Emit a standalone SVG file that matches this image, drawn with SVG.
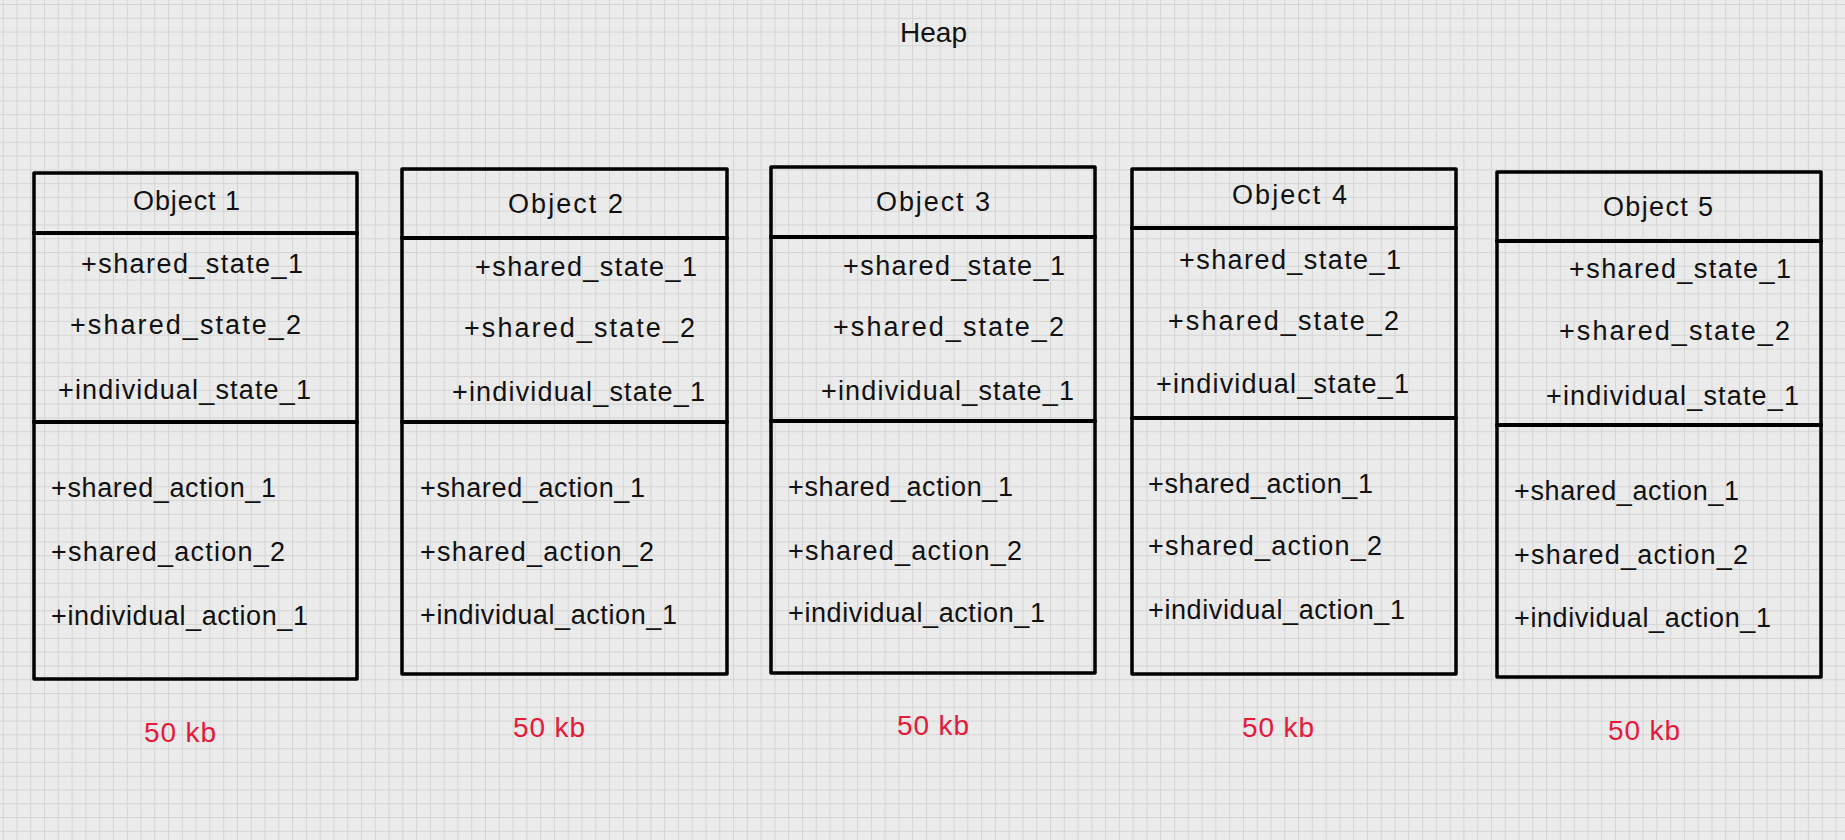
<svg xmlns="http://www.w3.org/2000/svg" width="1845" height="840" viewBox="0 0 1845 840">
<style>
.box{fill:none;stroke:#000;stroke-width:3.5;stroke-linejoin:round;stroke-linecap:round}
.div{stroke:#000;stroke-width:4;stroke-linecap:round}
.t{font-family:"Liberation Sans",Arial,sans-serif;font-size:27px;fill:#111}
.title{font-family:"Liberation Sans",Arial,sans-serif;font-size:27px;fill:#111}
.kb{font-family:"Liberation Sans",Arial,sans-serif;font-size:28px;fill:#e5193a}
.heap{font-family:"Liberation Sans",Arial,sans-serif;font-size:28px;fill:#111}
</style>
<defs>
<pattern id="grid" patternUnits="userSpaceOnUse" x="2.7" y="4" width="13.78" height="13.78">
<rect width="13.78" height="13.78" fill="#ebebeb"/>
<path d="M0 0.5H13.78M0.5 0V13.78" stroke="#d4d4d4" stroke-width="1" fill="none"/>
</pattern>
</defs>
<rect width="1845" height="840" fill="url(#grid)"/>
<text class="heap" x="900" y="42" textLength="67">Heap</text>
<g id="connectors"></g>

<g id="object-1">
<rect class="box" x="34" y="173" width="323" height="506"/>
<line class="div" x1="34" y1="233" x2="357" y2="233"/>
<line class="div" x1="34" y1="422" x2="357" y2="422"/>
<text class="title" x="133" y="210" textLength="107">Object 1</text>
<text class="t" x="81" y="273" textLength="222">+shared_state_1</text>
<text class="t" x="70" y="334" textLength="231">+shared_state_2</text>
<text class="t" x="58" y="399" textLength="253">+individual_state_1</text>
<text class="t" x="51" y="497" textLength="225">+shared_action_1</text>
<text class="t" x="51" y="561" textLength="234">+shared_action_2</text>
<text class="t" x="51" y="625" textLength="257">+individual_action_1</text>
<text class="kb" x="144" y="742" textLength="72">50 kb</text>
</g>

<g id="object-2">
<rect class="box" x="402" y="169" width="325" height="505"/>
<line class="div" x1="402" y1="238" x2="727" y2="238"/>
<line class="div" x1="402" y1="422" x2="727" y2="422"/>
<text class="title" x="508" y="213" textLength="115">Object 2</text>
<text class="t" x="475" y="276" textLength="222">+shared_state_1</text>
<text class="t" x="464" y="337" textLength="231">+shared_state_2</text>
<text class="t" x="452" y="401" textLength="253">+individual_state_1</text>
<text class="t" x="420" y="497" textLength="225">+shared_action_1</text>
<text class="t" x="420" y="561" textLength="234">+shared_action_2</text>
<text class="t" x="420" y="624" textLength="257">+individual_action_1</text>
<text class="kb" x="513" y="737" textLength="72">50 kb</text>
</g>

<g id="object-3">
<rect class="box" x="771" y="167" width="324" height="506"/>
<line class="div" x1="771" y1="237" x2="1095" y2="237"/>
<line class="div" x1="771" y1="421" x2="1095" y2="421"/>
<text class="title" x="876" y="211" textLength="114">Object 3</text>
<text class="t" x="843" y="275" textLength="222">+shared_state_1</text>
<text class="t" x="833" y="336" textLength="231">+shared_state_2</text>
<text class="t" x="821" y="400" textLength="253">+individual_state_1</text>
<text class="t" x="788" y="496" textLength="225">+shared_action_1</text>
<text class="t" x="788" y="560" textLength="234">+shared_action_2</text>
<text class="t" x="788" y="622" textLength="257">+individual_action_1</text>
<text class="kb" x="897" y="735" textLength="72">50 kb</text>
</g>

<g id="object-4">
<rect class="box" x="1132" y="169" width="324" height="505"/>
<line class="div" x1="1132" y1="228" x2="1456" y2="228"/>
<line class="div" x1="1132" y1="418" x2="1456" y2="418"/>
<text class="title" x="1232" y="204" textLength="115">Object 4</text>
<text class="t" x="1179" y="269" textLength="222">+shared_state_1</text>
<text class="t" x="1168" y="330" textLength="231">+shared_state_2</text>
<text class="t" x="1156" y="393" textLength="253">+individual_state_1</text>
<text class="t" x="1148" y="493" textLength="225">+shared_action_1</text>
<text class="t" x="1148" y="555" textLength="234">+shared_action_2</text>
<text class="t" x="1148" y="619" textLength="257">+individual_action_1</text>
<text class="kb" x="1242" y="737" textLength="72">50 kb</text>
</g>

<g id="object-5">
<rect class="box" x="1497" y="172" width="324" height="505"/>
<line class="div" x1="1497" y1="241" x2="1821" y2="241"/>
<line class="div" x1="1497" y1="425" x2="1821" y2="425"/>
<text class="title" x="1603" y="216" textLength="110">Object 5</text>
<text class="t" x="1569" y="278" textLength="222">+shared_state_1</text>
<text class="t" x="1559" y="340" textLength="231">+shared_state_2</text>
<text class="t" x="1546" y="405" textLength="253">+individual_state_1</text>
<text class="t" x="1514" y="500" textLength="225">+shared_action_1</text>
<text class="t" x="1514" y="564" textLength="234">+shared_action_2</text>
<text class="t" x="1514" y="627" textLength="257">+individual_action_1</text>
<text class="kb" x="1608" y="740" textLength="72">50 kb</text>
</g>
</svg>
